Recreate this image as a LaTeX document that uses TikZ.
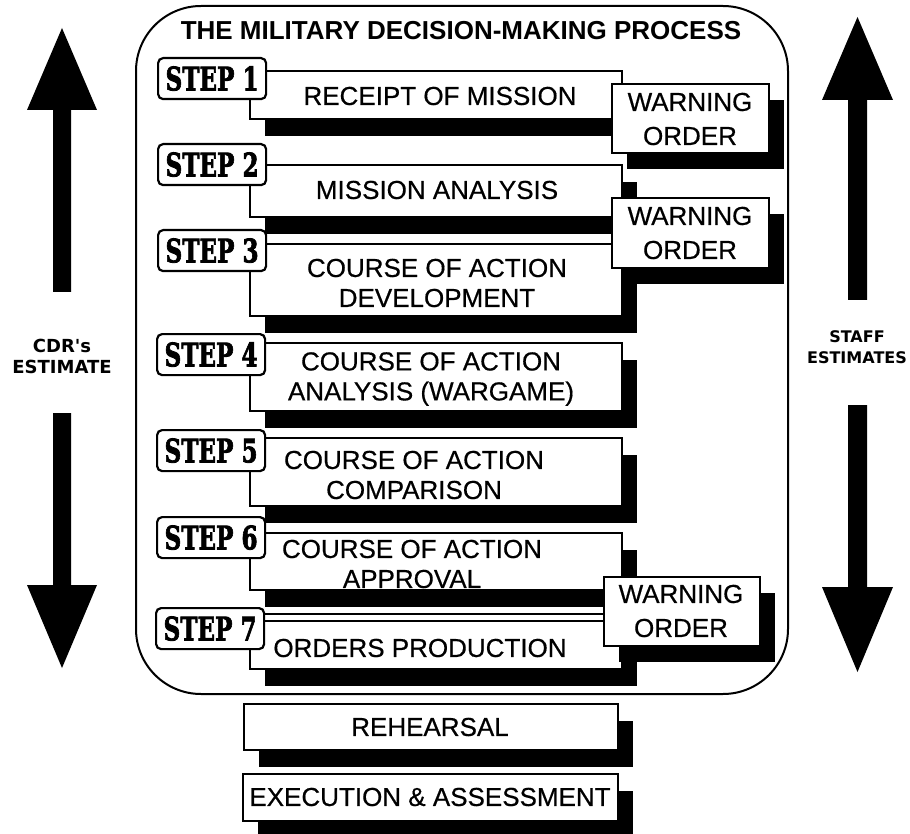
\documentclass[tikz,border=0pt]{standalone}
\usepackage{fontspec}
\usepackage{graphicx}
\usetikzlibrary{shadows}
\setmainfont{Liberation Sans}[UprightFeatures={FakeBold=0.5}]
\newfontfamily\slabfont{DejaVu Serif}[BoldFeatures={FakeBold=2.5}]
\newfontfamily\estfont{DejaVu Sans}
\newcommand\steptag[1]{\resizebox{93pt}{24pt}{\slabfont\bfseries STEP~#1}}

\tikzset{
  boxline/.style={line width=1.8pt},
  stepbox/.style={boxline, draw, fill=white, anchor=north west, inner sep=0pt,
    minimum width=372pt,
    drop shadow={shadow xshift=15pt, shadow yshift=-17pt, fill=black, opacity=1}},
  steptagbox/.style={draw, fill=white, line width=2.2pt, rounded corners=5pt,
    anchor=north west, minimum width=108pt, minimum height=41pt, inner sep=0pt},
  warnbox/.style={boxline, draw, fill=white, anchor=north west, inner sep=0pt,
    minimum width=157pt, minimum height=69pt,
    drop shadow={shadow xshift=15pt, shadow yshift=-16pt, fill=black, opacity=1}},
  boxtext/.style={font=\fontsize{26}{30}\selectfont, align=center, inner sep=0pt},
  warntext/.style={font=\fontsize{26}{34}\selectfont, align=center, inner sep=0pt},
  esttext/.style={font=\estfont\bfseries\fontsize{18}{21}\selectfont, align=center, inner sep=0pt},
}

\begin{document}
\begin{tikzpicture}[x=1pt, y=-1pt]
\useasboundingbox (0,0) rectangle (910,834);

% outer frame and heading
\node[draw, line width=2pt, rounded corners=65pt, minimum width=652pt,
  minimum height=688pt, anchor=north west, inner sep=0pt] (frame) at (135,5) {};
\node[font=\bfseries\fontsize{26}{30}\selectfont, inner sep=0pt] (title) at (461,31)
  {THE MILITARY DECISION-MAKING PROCESS};

% the seven steps
\node[stepbox, minimum height=48pt] (box1) at (249,70) {};
\node[steptagbox] (tag1) at (157,57) {\steptag{1}};
\node[boxtext] (txt1) at (440,96) {RECEIPT OF MISSION};

\node[stepbox, minimum height=52pt] (box2) at (249,164) {};
\node[steptagbox] (tag2) at (157,143) {\steptag{2}};
\node[boxtext] (txt2) at (437,190) {MISSION ANALYSIS};

\node[stepbox, minimum height=72pt] (box3) at (249,243) {};
\node[steptagbox] (tag3) at (157,229) {\steptag{3}};
\node[boxtext] (txt3) at (437,283) {COURSE OF ACTION\\DEVELOPMENT};

\node[stepbox, minimum height=68pt] (box4) at (249,342) {};
\node[steptagbox] (tag4) at (156,333) {\steptag{4}};
\node[boxtext] (txt4) at (431,379) {COURSE OF ACTION\\ANALYSIS (WARGAME)};

\node[stepbox, minimum height=68pt] (box5) at (249,437) {};
\node[steptagbox] (tag5) at (156,429) {\steptag{5}};
\node[boxtext] (txt5) at (414,475) {COURSE OF ACTION\\COMPARISON};

\node[stepbox, minimum height=57pt] (box6) at (249,532) {};
\node[steptagbox] (tag6) at (156,516) {\steptag{6}};
\node[boxtext] (txt6) at (412,564) {COURSE OF ACTION\\APPROVAL};

\node[stepbox, minimum height=55pt] (box7) at (249,613) {};
\node[steptagbox] (tag7) at (155,607) {\steptag{7}};
\node[boxtext] (txt7) at (420,648) {ORDERS PRODUCTION};

% warning orders
\node[warnbox] (wo1) at (611,83) {};
\node[warntext] (wo1t) at (690,119) {WARNING\\ORDER};
\node[warnbox, minimum height=70pt] (wo2) at (611,197) {};
\node[warntext] (wo2t) at (690,233) {WARNING\\ORDER};
\node[warnbox, minimum width=156pt] (wo3) at (603,576) {};
\node[warntext] (wo3t) at (681,611) {WARNING\\ORDER};

% second rule under the top edge of step 7
\coordinate (seam) at (0,621);
\draw[line width=1.4pt] (tag7.east |- seam) -- (wo3.west |- seam);

% after the process
\node[stepbox, minimum width=374pt, minimum height=46pt] (reh) at (243,703) {};
\node[boxtext] (reht) at (430,727) {REHEARSAL};
\node[stepbox, minimum width=375pt, minimum height=47pt] (exe) at (242,773) {};
\node[boxtext] (exet) at (430,797) {EXECUTION \& ASSESSMENT};

% commander's estimate arrows
\fill (53,292) -- (53,110) -- (27,110) -- (62,28) -- (97,110) -- (71,110) -- (71,292) -- cycle;
\fill (53,413) -- (53,585) -- (27,585) -- (62,668) -- (97,585) -- (71,585) -- (71,413) -- cycle;
\node[esttext] (cdr) at (62,356) {CDR's\\ESTIMATE};

% staff estimate arrows
\fill (848,300) -- (848,100) -- (822,100) -- (857.5,17) -- (893,100) -- (867,100) -- (867,300) -- cycle;
\fill (848,405) -- (848,587) -- (822,587) -- (857.5,672) -- (893,587) -- (867,587) -- (867,405) -- cycle;
\node[esttext, font=\estfont\bfseries\fontsize{16}{21}\selectfont] (staff) at (857,347) {STAFF\\ESTIMATES};
\end{tikzpicture}
\end{document}
